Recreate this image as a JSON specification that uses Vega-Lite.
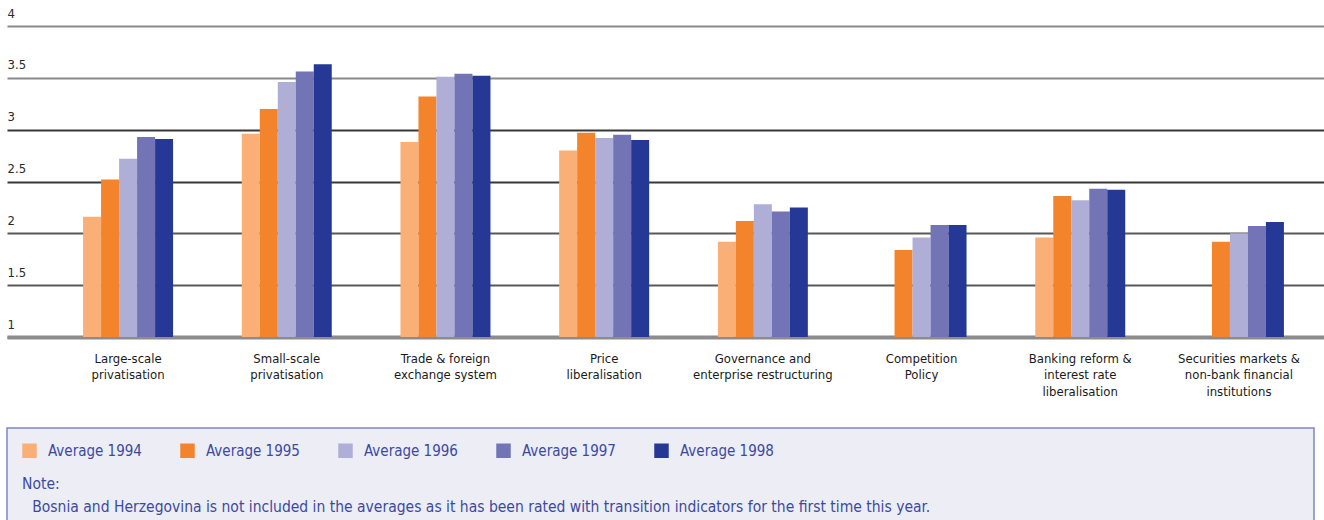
{
  "$schema": "https://vega.github.io/schema/vega-lite/v6.json",
  "autosize": {"type": "none"},
  "padding": {"left": 7, "top": 26, "right": 0, "bottom": 183},
  "width": 1317,
  "height": 311,
  "background": "white",
  "config": {
    "view": {"stroke": null},
    "font": "DejaVu Sans Condensed, Liberation Sans Narrow, sans-serif",
    "legend": {"strokeWidth": 1.5}
  },
  "data": {
    "values": [
      {"category": "Large-scale|privatisation", "series": "Average 1994", "value": 2.16},
      {"category": "Large-scale|privatisation", "series": "Average 1995", "value": 2.52},
      {"category": "Large-scale|privatisation", "series": "Average 1996", "value": 2.72},
      {"category": "Large-scale|privatisation", "series": "Average 1997", "value": 2.93},
      {"category": "Large-scale|privatisation", "series": "Average 1998", "value": 2.91},
      {"category": "Small-scale|privatisation", "series": "Average 1994", "value": 2.96},
      {"category": "Small-scale|privatisation", "series": "Average 1995", "value": 3.20},
      {"category": "Small-scale|privatisation", "series": "Average 1996", "value": 3.46},
      {"category": "Small-scale|privatisation", "series": "Average 1997", "value": 3.56},
      {"category": "Small-scale|privatisation", "series": "Average 1998", "value": 3.63},
      {"category": "Trade & foreign|exchange system", "series": "Average 1994", "value": 2.88},
      {"category": "Trade & foreign|exchange system", "series": "Average 1995", "value": 3.32},
      {"category": "Trade & foreign|exchange system", "series": "Average 1996", "value": 3.51},
      {"category": "Trade & foreign|exchange system", "series": "Average 1997", "value": 3.54},
      {"category": "Trade & foreign|exchange system", "series": "Average 1998", "value": 3.52},
      {"category": "Price|liberalisation", "series": "Average 1994", "value": 2.80},
      {"category": "Price|liberalisation", "series": "Average 1995", "value": 2.97},
      {"category": "Price|liberalisation", "series": "Average 1996", "value": 2.92},
      {"category": "Price|liberalisation", "series": "Average 1997", "value": 2.95},
      {"category": "Price|liberalisation", "series": "Average 1998", "value": 2.90},
      {"category": "Governance and|enterprise restructuring", "series": "Average 1994", "value": 1.92},
      {"category": "Governance and|enterprise restructuring", "series": "Average 1995", "value": 2.12},
      {"category": "Governance and|enterprise restructuring", "series": "Average 1996", "value": 2.28},
      {"category": "Governance and|enterprise restructuring", "series": "Average 1997", "value": 2.21},
      {"category": "Governance and|enterprise restructuring", "series": "Average 1998", "value": 2.25},
      {"category": "Competition|Policy", "series": "Average 1995", "value": 1.84},
      {"category": "Competition|Policy", "series": "Average 1996", "value": 1.96},
      {"category": "Competition|Policy", "series": "Average 1997", "value": 2.08},
      {"category": "Competition|Policy", "series": "Average 1998", "value": 2.08},
      {"category": "Banking reform &|interest rate|liberalisation", "series": "Average 1994", "value": 1.96},
      {"category": "Banking reform &|interest rate|liberalisation", "series": "Average 1995", "value": 2.36},
      {"category": "Banking reform &|interest rate|liberalisation", "series": "Average 1996", "value": 2.32},
      {"category": "Banking reform &|interest rate|liberalisation", "series": "Average 1997", "value": 2.43},
      {"category": "Banking reform &|interest rate|liberalisation", "series": "Average 1998", "value": 2.42},
      {"category": "Securities markets &|non-bank financial|institutions", "series": "Average 1995", "value": 1.92},
      {"category": "Securities markets &|non-bank financial|institutions", "series": "Average 1996", "value": 2.00},
      {"category": "Securities markets &|non-bank financial|institutions", "series": "Average 1997", "value": 2.07},
      {"category": "Securities markets &|non-bank financial|institutions", "series": "Average 1998", "value": 2.11}
    ]
  },
  "mark": {"type": "bar"},
  "encoding": {
    "x": {
      "field": "category",
      "type": "nominal",
      "sort": null,
      "scale": {"paddingInner": 0.433, "paddingOuter": 0.366, "align": 0.655},
      "axis": {
        "title": null,
        "labelAngle": 0,
        "labelExpr": "split(datum.label, '|')",
        "labelBaseline": "top",
        "labelPadding": 15,
        "labelLineHeight": 16.5,
        "labelFontSize": 13,
        "labelColor": "#1a1a1a",
        "labelLimit": 300,
        "ticks": false,
        "tickSize": 0,
        "domainColor": "#8c8c8c",
        "domainWidth": 4
      }
    },
    "xOffset": {
      "field": "series",
      "type": "nominal",
      "scale": {"paddingInner": 0, "paddingOuter": 0}
    },
    "y": {
      "field": "value",
      "type": "quantitative",
      "scale": {"domain": [1, 4], "zero": false, "nice": false},
      "axis": {
        "title": null,
        "values": [1, 1.5, 2, 2.5, 3, 3.5, 4],
        "format": "~g",
        "domain": false,
        "ticks": false,
        "tickSize": 0,
        "labelAlign": "left",
        "labelBaseline": "bottom",
        "labelPadding": 0,
        "labelOffset": -6,
        "labelFontSize": 13,
        "labelColor": "#2a2a2a",
        "grid": true,
        "gridWidth": 2,
        "gridColor": {
          "condition": [
            {"test": "datum.value >= 3.5", "value": "#8a8a8a"},
            {"test": "datum.value >= 2.5", "value": "#383838"}
          ],
          "value": "#585858"
        }
      }
    },
    "y2": {"datum": 1},
    "color": {
      "field": "series",
      "type": "nominal",
      "scale": {
        "domain": ["Average 1994", "Average 1995", "Average 1996", "Average 1997", "Average 1998"],
        "range": ["#f9af76", "#f3842c", "#afaed6", "#7274b5", "#253896"]
      },
      "legend": {
        "orient": "none",
        "legendX": 0,
        "legendY": 402,
        "direction": "horizontal",
        "columns": 5,
        "columnPadding": 38,
        "symbolType": "square",
        "symbolSize": 210,
        "symbolStrokeWidth": 0,
        "labelFontSize": 15,
        "labelColor": "#3b4aa0",
        "labelOffset": 11,
        "fillColor": "#ededf6",
        "strokeColor": "#7f86c4",
        "padding": 15,
        "titleOrient": "bottom",
        "titleAnchor": "start",
        "titleFontWeight": "normal",
        "titleFontSize": 15.5,
        "titleColor": "#3b4aa0",
        "titleLineHeight": 23,
        "titlePadding": 18,
        "titleLimit": 2000,
        "title": ["Note:", "\u2800Bosnia and Herzegovina is not included in the averages as it has been rated with transition indicators for the first time this year.\u2800\u2800\u2800\u2800\u2800\u2800\u2800\u2800\u2800\u2800\u2800\u2800\u2800\u2800\u2800\u2800\u2800\u2800\u2800\u2800\u2800\u2800\u2800\u2800\u2800\u2800\u2800\u2800\u2800\u2800\u2800\u2800\u2800\u2800\u2800\u2800"]
      }
    }
  }
}
